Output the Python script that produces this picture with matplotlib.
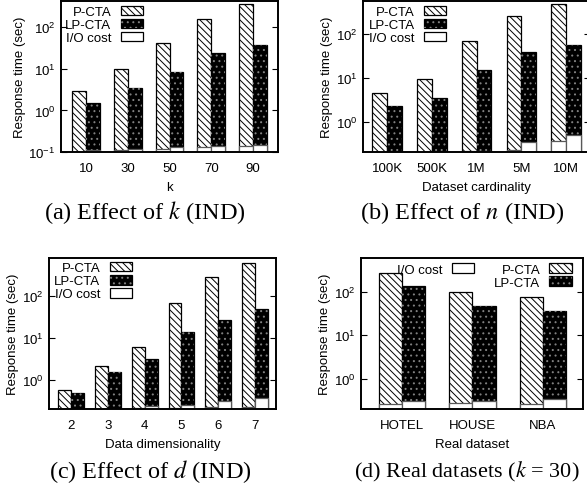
import matplotlib
matplotlib.use("Agg")
import matplotlib.pyplot as plt
from matplotlib.patches import Patch
import numpy as np

plt.rcParams['font.family'] = ['Liberation Sans', 'DejaVu Sans']
plt.rcParams['font.size'] = 9.5
plt.rcParams['hatch.linewidth'] = 0.7

# (a) effect of k
k_labels = ['10', '30', '50', '70', '90']
k_pcta = [3.0, 10.2, 43, 160, 370]
k_lpcta = [1.47, 3.4, 8.6, 24.5, 38]
k_io_pcta = [0.1, 0.11, 0.12, 0.135, 0.137]
k_io_lpcta = [0.11, 0.115, 0.13, 0.14, 0.147]

# (b) effect of n
n_labels = ['100K', '500K', '1M', '5M', '10M']
n_pcta = [4.6, 9.5, 69, 257, 480]
n_lpcta = [2.3, 3.5, 15, 39, 56]
n_io_pcta = [0.15, 0.17, 0.22, 0.23, 0.37]
n_io_lpcta = [0.16, 0.18, 0.22, 0.35, 0.5]

# (c) effect of d
d_labels = ['2', '3', '4', '5', '6', '7']
d_pcta = [0.58, 2.15, 6.1, 68, 285, 610]
d_lpcta = [0.49, 1.55, 3.2, 13.9, 27, 49]
d_io_pcta = [0.15, 0.17, 0.21, 0.215, 0.225, 0.225]
d_io_lpcta = [0.16, 0.18, 0.23, 0.25, 0.31, 0.37]

# (d) real datasets
r_labels = ['HOTEL', 'HOUSE', 'NBA']
r_pcta = [275, 98, 77]
r_lpcta = [137, 48, 36]
r_io_pcta = [0.26, 0.27, 0.26]
r_io_lpcta = [0.3, 0.31, 0.34]

W, H = 587, 489
fig = plt.figure(figsize=(W / 100, H / 100), dpi=100)

P_HATCH = '\\' * 5
DOT_COLOR = '0.5'


def px_axes(x0, y0, x1, y1):
    return fig.add_axes([x0 / W, 1 - y1 / H, (x1 - x0) / W, (y1 - y0) / H])


def panel(ax, labels, pcta, lpcta, io_p, io_lp, w, xlim, ylim, xlabel):
    x = np.arange(len(labels))
    ax.set_yscale('log')
    ax.bar(x - w, pcta, w, align='edge', color='white', edgecolor='black',
           hatch=P_HATCH, linewidth=0.9)
    ax.bar(x, lpcta, w, align='edge', color='black', edgecolor='black', linewidth=0.9)
    ax.bar(x, lpcta, w, align='edge', color='none', edgecolor=DOT_COLOR,
           hatch='...', linewidth=0)
    ax.bar(x - w, io_p, w, align='edge', color='white', edgecolor='0.35', linewidth=0.9)
    ax.bar(x, io_lp, w, align='edge', color='white', edgecolor='0.35', linewidth=0.9)
    ax.set_xlim(*xlim)
    ax.set_ylim(*ylim)
    ax.set_xticks(x)
    ax.set_xticklabels(labels)
    ax.tick_params(axis='x', length=0, pad=7)
    ax.tick_params(axis='y', which='major', direction='in', length=4, right=True, pad=4)
    ax.tick_params(axis='y', which='minor', left=False, right=False)
    ax.set_xlabel(xlabel, labelpad=5)
    ax.set_ylabel('Response time (sec)', labelpad=2)
    for s in ax.spines.values():
        s.set_linewidth(1.4)
    ax.set_zorder(1)


def handles():
    hp = Patch(facecolor='white', edgecolor='black', hatch=P_HATCH, linewidth=0.9)
    hl = (Patch(facecolor='black', edgecolor='black', linewidth=0.9),
          Patch(facecolor='none', edgecolor=DOT_COLOR, hatch='...', linewidth=0))
    hi = Patch(facecolor='white', edgecolor='black', linewidth=0.9)
    return hp, hl, hi


LEG = dict(frameon=False, markerfirst=False, borderpad=0, borderaxespad=0,
           labelspacing=0.05, handlelength=1.7, handleheight=0.75, handletextpad=0.7,
           loc='upper right')

# (a)
ax = px_axes(61, 2, 278, 153)
panel(ax, k_labels, k_pcta, k_lpcta, k_io_pcta, k_io_lpcta, 0.33, (-0.6, 4.6), (0.1, 430), 'k')
hp, hl, hi = handles()
ax.legend([hp, hl, hi], ['P-CTA', 'LP-CTA', 'I/O cost'], bbox_to_anchor=(0.378, 0.97), **LEG)

# (b)
ax = px_axes(363, 2, 590, 153)
panel(ax, n_labels, n_pcta, n_lpcta, n_io_pcta, n_io_lpcta, 0.33, (-0.54, 4.53), (0.21, 560),
      'Dataset cardinality')
hp, hl, hi = handles()
ax.legend([hp, hl, hi], ['P-CTA', 'LP-CTA', 'I/O cost'], bbox_to_anchor=(0.367, 0.97), **LEG)

# (c)
ax = px_axes(49, 259, 276, 410)
panel(ax, d_labels, d_pcta, d_lpcta, d_io_pcta, d_io_lpcta, 0.35, (-0.6, 5.57), (0.2, 800),
      'Data dimensionality')
hp, hl, hi = handles()
ax.legend([hp, hl, hi], ['P-CTA', 'LP-CTA', 'I/O cost'], bbox_to_anchor=(0.366, 0.975), **LEG)

# (d)
ax = px_axes(361, 259, 583, 410)
panel(ax, r_labels, r_pcta, r_lpcta, r_io_pcta, r_io_lpcta, 0.33, (-0.58, 2.57), (0.2, 600),
      'Real dataset')
hp, hl, hi = handles()
leg1 = ax.legend([hi], ['I/O cost'], bbox_to_anchor=(0.51, 0.965), **LEG)
ax.add_artist(leg1)
ax.legend([hp, hl], ['P-CTA', 'LP-CTA'], bbox_to_anchor=(0.95, 0.965), **LEG)

# captions
cap = dict(ha='center', va='center', family='Liberation Serif', math_fontfamily='stix')
fig.text(145 / W, 1 - 213 / H, '(a) Effect of $k$ (IND)', fontsize=17.5, **cap)
fig.text(462 / W, 1 - 213 / H, '(b) Effect of $n$ (IND)', fontsize=17.5, **cap)
fig.text(150 / W, 1 - 472 / H, '(c) Effect of $d$ (IND)', fontsize=17.5, **cap)
fig.text(467 / W, 1 - 472 / H, '(d) Real datasets ($k$ = 30)', fontsize=16, **cap)

fig.savefig('out.png', dpi=100)
